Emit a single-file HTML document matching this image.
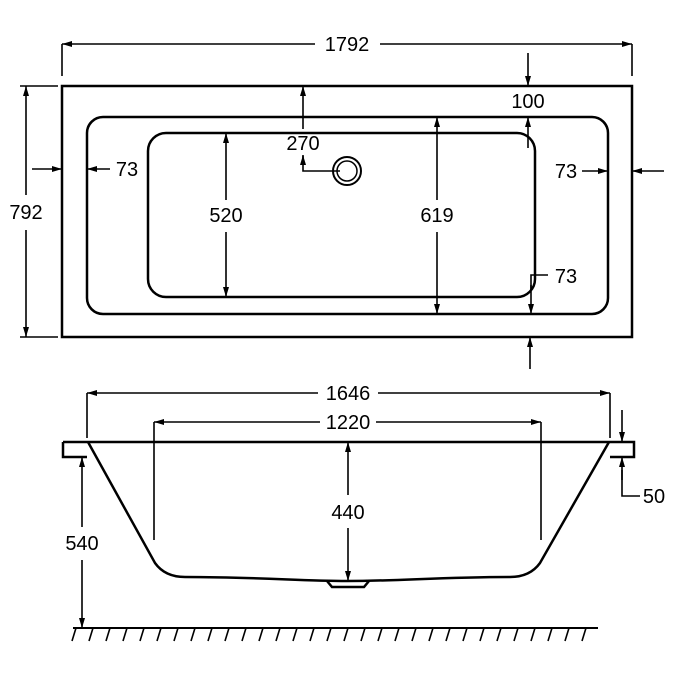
<!DOCTYPE html>
<html><head><meta charset="utf-8"><style>html,body{margin:0;padding:0;background:#fff;}svg{display:block}</style></head>
<body>
<svg width="675" height="675" viewBox="0 0 675 675" xmlns="http://www.w3.org/2000/svg" font-family="Liberation Sans, sans-serif" font-size="20" fill="none" stroke="#000">
<defs>
<marker id="a" viewBox="0 0 10 6" refX="10" refY="3" markerWidth="10" markerHeight="6" orient="auto" markerUnits="userSpaceOnUse"><path d="M0,0 L10,3 L0,6 z" fill="#000" stroke="none"/></marker>
</defs>
<g stroke-width="2.5">
<rect x="62" y="86" width="570" height="251"/>
<rect x="87" y="117" width="521" height="197" rx="16"/>
<rect x="148" y="133" width="387" height="164" rx="18"/>
</g>
<g stroke-width="1.6">
<line x1="62" y1="44" x2="62" y2="76"/><line x1="632" y1="44" x2="632" y2="76"/>
<line x1="315" y1="44" x2="62" y2="44" marker-end="url(#a)"/>
<line x1="380" y1="44" x2="632" y2="44" marker-end="url(#a)"/>
<line x1="20" y1="86" x2="58" y2="86"/><line x1="20" y1="337" x2="58" y2="337"/>
<line x1="26" y1="195" x2="26" y2="86" marker-end="url(#a)"/>
<line x1="26" y1="230" x2="26" y2="337" marker-end="url(#a)"/>
<line x1="32" y1="169" x2="62" y2="169" marker-end="url(#a)"/>
<line x1="110" y1="169" x2="87" y2="169" marker-end="url(#a)"/>
<line x1="303" y1="129" x2="303" y2="86" marker-end="url(#a)"/>
<polyline points="340,171 303,171 303,156"/>
<line x1="303" y1="160" x2="303" y2="155" marker-end="url(#a)"/>
<line x1="528" y1="53" x2="528" y2="86" marker-end="url(#a)"/>
<line x1="528" y1="148" x2="528" y2="117" marker-end="url(#a)"/>
<line x1="582" y1="171" x2="608" y2="171" marker-end="url(#a)"/>
<line x1="664" y1="171" x2="632" y2="171" marker-end="url(#a)"/>
<line x1="437" y1="200" x2="437" y2="117" marker-end="url(#a)"/>
<line x1="437" y1="232" x2="437" y2="314" marker-end="url(#a)"/>
<line x1="226" y1="200" x2="226" y2="133" marker-end="url(#a)"/>
<line x1="226" y1="232" x2="226" y2="297" marker-end="url(#a)"/>
<polyline points="548,275 531,275 531,290"/>
<line x1="531" y1="285" x2="531" y2="314" marker-end="url(#a)"/>
<line x1="530" y1="369" x2="530" y2="337" marker-end="url(#a)"/>
</g>
<circle cx="347" cy="171" r="14" stroke-width="2"/>
<circle cx="347" cy="171" r="10" stroke-width="1.5"/>
<g fill="#000" stroke="none" text-anchor="middle">
<text x="347" y="51">1792</text>
<text x="26" y="219">792</text>
<text x="127" y="176">73</text>
<text x="303" y="150">270</text>
<text x="528" y="108">100</text>
<text x="566" y="178">73</text>
<text x="437" y="222">619</text>
<text x="226" y="222">520</text>
<text x="566" y="283">73</text>
</g>
<g stroke-width="2.5">
<path d="M63,442 H634 V457 H610 M87,457 H63 V442"/>
<path d="M88,442 L155,563 Q165,577 185,577 C260,577 300,581 347,581 C400,581 440,577 510,577 Q530,577 540,563 L609,442"/>
<path d="M327,581 L332,587 H364 L369,581"/>
</g>
<g stroke-width="1.6">
<line x1="87" y1="393" x2="87" y2="438"/><line x1="610" y1="393" x2="610" y2="438"/>
<line x1="318" y1="393" x2="87" y2="393" marker-end="url(#a)"/>
<line x1="378" y1="393" x2="610" y2="393" marker-end="url(#a)"/>
<line x1="154" y1="422" x2="154" y2="540"/><line x1="541" y1="422" x2="541" y2="540"/>
<line x1="320" y1="422" x2="154" y2="422" marker-end="url(#a)"/>
<line x1="376" y1="422" x2="541" y2="422" marker-end="url(#a)"/>
<line x1="348" y1="495" x2="348" y2="442" marker-end="url(#a)"/>
<line x1="348" y1="528" x2="348" y2="581" marker-end="url(#a)"/>
<line x1="82" y1="527" x2="82" y2="457" marker-end="url(#a)"/>
<line x1="82" y1="560" x2="82" y2="628" marker-end="url(#a)"/>
<line x1="622" y1="410" x2="622" y2="442" marker-end="url(#a)"/>
<polyline points="640,496 622,496 622,470"/>
<line x1="622" y1="480" x2="622" y2="457" marker-end="url(#a)"/>
<line x1="73" y1="628" x2="598" y2="628" stroke-width="2"/>
<path d="M76,628 l-4,13 M93,628 l-4,13 M110,628 l-4,13 M127,628 l-4,13 M144,628 l-4,13 M161,628 l-4,13 M178,628 l-4,13 M195,628 l-4,13 M212,628 l-4,13 M229,628 l-4,13 M246,628 l-4,13 M263,628 l-4,13 M280,628 l-4,13 M297,628 l-4,13 M314,628 l-4,13 M331,628 l-4,13 M348,628 l-4,13 M365,628 l-4,13 M382,628 l-4,13 M399,628 l-4,13 M416,628 l-4,13 M433,628 l-4,13 M450,628 l-4,13 M467,628 l-4,13 M484,628 l-4,13 M501,628 l-4,13 M518,628 l-4,13 M535,628 l-4,13 M552,628 l-4,13 M569,628 l-4,13 M586,628 l-4,13"/>
</g>
<g fill="#000" stroke="none" text-anchor="middle">
<text x="348" y="400">1646</text>
<text x="348" y="429">1220</text>
<text x="348" y="519">440</text>
<text x="82" y="550">540</text>
<text x="654" y="503">50</text>
</g>
</svg>
</body></html>
